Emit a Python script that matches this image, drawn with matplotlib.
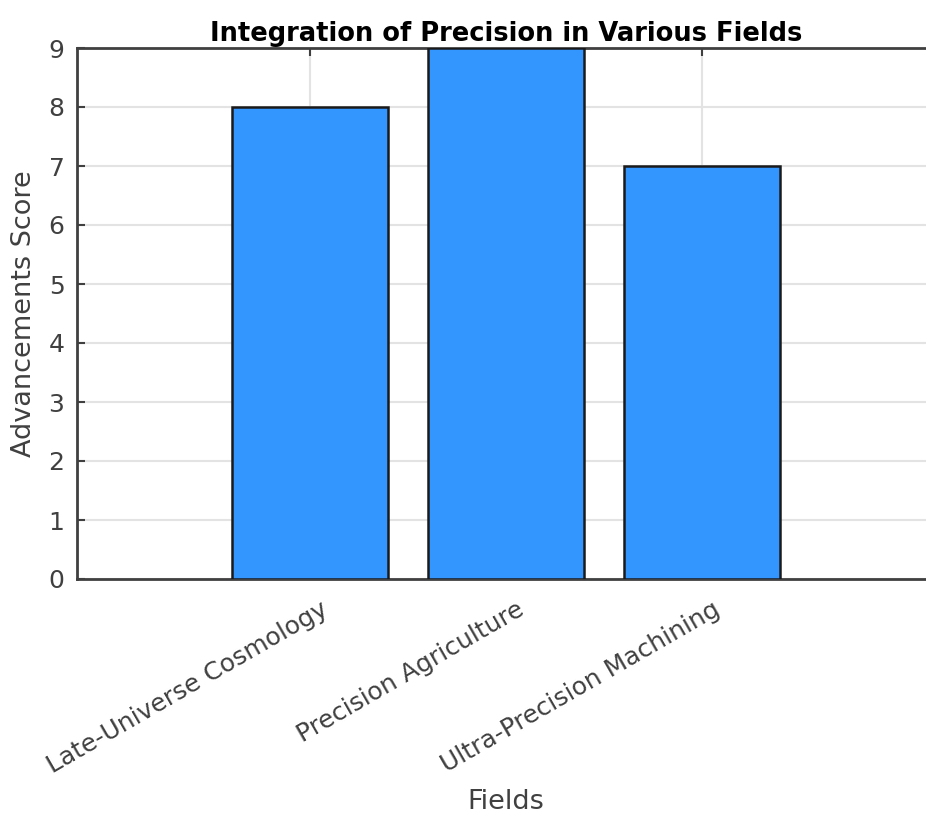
import numpy as np
import matplotlib.pyplot as plt
import matplotlib.transforms as mtransforms

fields = ['Late-Universe Cosmology', 'Precision Agriculture', 'Ultra-Precision Machining']
scores = [8, 9, 7]

plt.rcParams['font.family'] = ['DejaVu Sans']

fig = plt.figure(figsize=(9.26, 8.16), dpi=100)
# axes runs a little past the right edge, as in the reference
ax = fig.add_axes([77 / 926, 1 - 579 / 816, (935 - 77) / 926, (579 - 48) / 816])

x = np.arange(1, len(fields) + 1)
ax.bar(x, scores, width=0.8, color='#3396ff', edgecolor='#1a1a1a', linewidth=1.8, zorder=3)

ax.set_xlim(-0.19, 4.19)
ax.set_ylim(0, 9)
ax.set_yticks(range(0, 10))
ax.set_xticks(x)
ax.set_xticklabels(fields, rotation=30, ha='right', rotation_mode='anchor')

ax.grid(True, color='#e3e3e3', linewidth=1.5, zorder=0)
ax.tick_params(direction='in', top=True, length=6, width=1.5, color='#404040',
               labelsize=18, labelcolor='#404040', pad=9)
for side in ['left', 'bottom', 'top']:
    ax.spines[side].set_color('#404040')
    ax.spines[side].set_linewidth(2)
ax.spines['right'].set_visible(False)

shift = mtransforms.ScaledTranslation(10 / 100, -6 / 100, fig.dpi_scale_trans)
for lab in ax.xaxis.get_majorticklabels():
    lab.set_transform(lab.get_transform() + shift)

ax.set_title('Integration of Precision in Various Fields', fontsize=18.5, fontweight='bold', pad=5)
ax.set_xlabel('Fields', fontsize=19.5, color='#404040')
ax.set_ylabel('Advancements Score', fontsize=19.5, color='#404040', labelpad=8)
ax.xaxis.set_label_coords(0.5, -0.395)

fig.savefig('out.png', dpi=100)
